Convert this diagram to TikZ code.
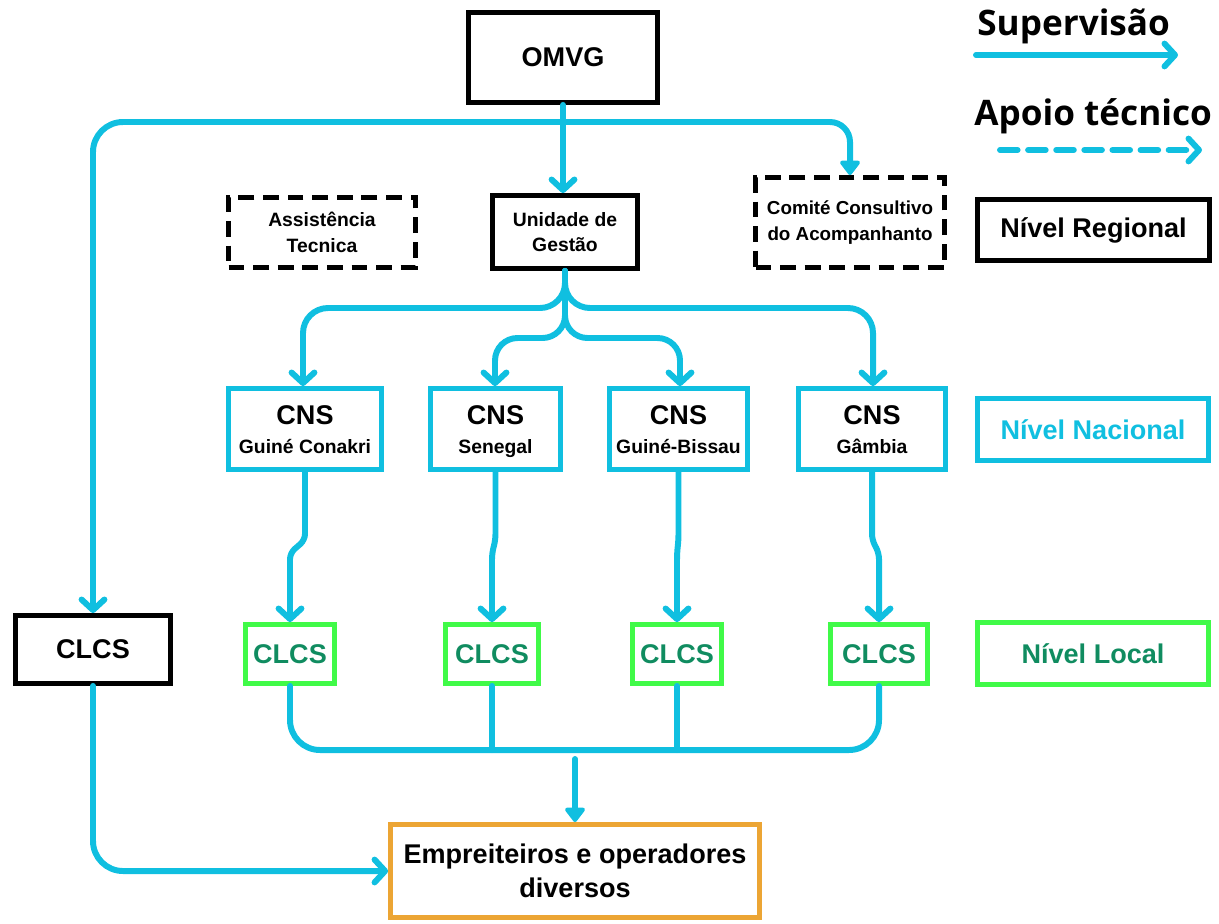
\documentclass[tikz,border=0pt]{standalone}
\usepackage{fontspec}
\setmainfont{Liberation Sans}
\newfontfamily\legendfont{Open Sans}
\usetikzlibrary{arrows.meta,calc}
\definecolor{cyanl}{RGB}{16,191,224}
\definecolor{greenb}{RGB}{64,250,72}
\definecolor{greent}{RGB}{16,140,96}
\definecolor{orangeb}{RGB}{236,165,52}
\newcommand{\cnstext}[1]{{\fontsize{15.4}{18}\selectfont CNS\vphantom{Ég}}\\[3pt]{\fontsize{11}{14}\selectfont #1\vphantom{Égp}}}
\tikzset{
  box/.style={draw=black, line width=2.8pt, align=center, inner sep=0pt, font=\bfseries},
  dbox/.style={box, dash pattern=on 9pt off 5pt},
  cnsbox/.style={box, draw=cyanl},
  lbox/.style={box, draw=greenb, text=greent, font=\bfseries\fontsize{15.4}{18}\selectfont},
  big/.style={font=\bfseries\fontsize{15.4}{19}\selectfont},
  small/.style={font=\bfseries\fontsize{11}{14.5}\selectfont},
  sup/.style={draw=cyanl, line width=3.4pt, line cap=round, line join=round,
     -{Straight Barb[length=6pt,width=13pt,round]}},
  supf/.style={draw=cyanl, line width=3.4pt, line cap=round, line join=round,
     -{Triangle[length=9pt,width=13pt,round]}},
  link/.style={draw=cyanl, line width=3.4pt, line cap=round, line join=round},
  legtext/.style={font=\legendfont\bfseries\fontsize{20}{22}\selectfont,anchor=west,inner sep=0pt},
}
\begin{document}
\begin{tikzpicture}[x=0.02cm,y=-0.02cm]
\useasboundingbox (0,0) rectangle (1219,923);
% nodes
\node[box,big,minimum width=3.78cm,minimum height=1.80cm] (omvg) at (563,57.5) {OMVG};
\node[dbox,small,minimum width=3.74cm,minimum height=1.40cm] (at) at (322,232.5) {Assistência\\Tecnica};
\node[box,small,minimum width=2.90cm,minimum height=1.46cm] (ug) at (565,232) {Unidade de\\Gestão};
\node[dbox,small,font=\bfseries\fontsize{10.7}{14.5}\selectfont,minimum width=3.78cm,minimum height=1.80cm] (cc) at (850,222.5) {Comité Consultivo\\do Acompanhanto};
\node[box,big,minimum width=4.64cm,minimum height=1.22cm] (nr) at (1093.5,230) {Nível Regional};

\node[cnsbox,minimum width=3.06cm,minimum height=1.62cm] (cns1) at (305,429) {\cnstext{Guiné Conakri}};
\node[cnsbox,minimum width=2.60cm,minimum height=1.62cm] (cns2) at (495.5,429) {\cnstext{Senegal}};
\node[cnsbox,minimum width=2.76cm,minimum height=1.62cm] (cns3) at (678.5,429) {\cnstext{Guiné-Bissau}};
\node[cnsbox,minimum width=2.94cm,minimum height=1.62cm] (cns4) at (872,429) {\cnstext{Gâmbia}};
\node[cnsbox,big,text=cyanl,minimum width=4.62cm,minimum height=1.24cm] (nn) at (1093,429.5) {Nível Nacional};

\node[lbox,minimum width=1.78cm,minimum height=1.18cm] (cl1) at (290,654) {CLCS};
\node[lbox,minimum width=1.86cm,minimum height=1.18cm] (cl2) at (492,654) {CLCS};
\node[lbox,minimum width=1.78cm,minimum height=1.18cm] (cl3) at (677,654) {CLCS};
\node[lbox,minimum width=1.94cm,minimum height=1.18cm] (cl4) at (879,654) {CLCS};
\node[lbox,minimum width=4.62cm,minimum height=1.24cm] (nl) at (1093,653.5) {Nível Local};

\node[box,big,minimum width=3.10cm,minimum height=1.36cm] (cl0) at (93,649.5) {CLCS};
\node[box,big,draw=orangeb,minimum width=7.38cm,minimum height=1.86cm] (emp) at (575,871) {Empreiteiros e operadores\\diversos};

% legend
\node[legtext] (lsup) at (977,26) {Supervisão};
\node[legtext] (lapo) at (974,116) {Apoio técnico};
\coordinate (s1) at (976,55);
\coordinate (s2) at (1178,55);
\coordinate (d1) at (1000,150);
\coordinate (d2) at (1202,150);
\draw[sup] (s1) -- (s2);
\draw[sup,dash pattern=on 10pt off 6pt] (d1) -- (d2);

% connectors
\coordinate (j1) at (563,122);
\draw[sup] (omvg.south) -- (omvg.south |- ug.north);
\draw[sup,rounded corners=0.6cm] (j1) -| (cl0.north);
\draw[supf,rounded corners=0.4cm] (j1) -| (cc.north);

\coordinate (b1) at (303,308);
\coordinate (b4) at (873,308);
\coordinate (b2) at (495,338);
\coordinate (b3) at (680,338);
\draw[sup,rounded corners=0.5cm] (ug.south) |- (b1) -- (b1 |- cns1.north);
\draw[sup,rounded corners=0.5cm] (ug.south) |- (b4) -- (b4 |- cns4.north);
\draw[sup,rounded corners=0.45cm] (ug.south) |- (b2) -- (b2 |- cns2.north);
\draw[sup,rounded corners=0.45cm] (ug.south) |- (b3) -- (b3 |- cns3.north);

\foreach \i in {1,2,3,4}{
  \draw[sup,rounded corners=0.12cm] (cns\i.south) -- ($(cns\i.south |- 0,540)$) -- ($(cl\i.north |- 0,553)$) -- (cl\i.north);
}

\coordinate (m1) at (290,750);
\coordinate (m4) at (879,750);
\draw[link,rounded corners=0.6cm] (cl1.south) |- (m4) -- (cl4.south);
\draw[link] (cl2.south) -- (cl2.south |- m1);
\draw[link] (cl3.south) -- (cl3.south |- m1);
\coordinate (mt) at (575,759);
\draw[supf] (mt) -- (emp.north);
\draw[sup,rounded corners=0.6cm] (cl0.south) |- (emp.west);
\end{tikzpicture}
\end{document}
